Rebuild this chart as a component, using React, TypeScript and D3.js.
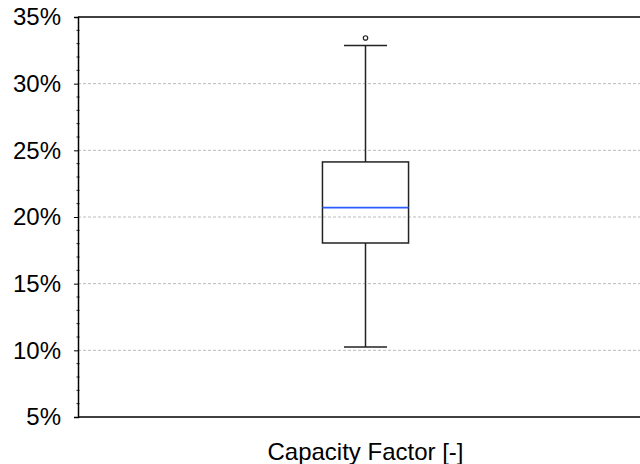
import React, { useEffect, useRef } from 'react';
import * as d3 from 'd3';

const categories = ['Capacity Factor [-]'];
// box stats, in percent
const whiskerLow = [10.25];
const q1 = [18.05];
const median = [20.7];
const q3 = [24.13];
const whiskerHigh = [32.87];
const outliers = [[33.43]];
const yTicks = [5, 10, 15, 20, 25, 30, 35];

const App = () => {
  const ref = useRef<SVGSVGElement | null>(null);

  useEffect(() => {
    if (!ref.current) return;
    const width = 640;
    const height = 464;
    const margin = { top: 17, right: -13, bottom: 47, left: 78 };

    const svg = d3.select(ref.current);
    svg.selectAll('*').remove();

    const x = d3.scaleBand()
      .domain(categories)
      .range([margin.left, width - margin.right])
      .paddingInner(0)
      .paddingOuter(2.84);
    const y = d3.scaleLinear()
      .domain([5, 35])
      .range([height - margin.bottom, margin.top]);

    const font = 'Liberation Sans, Arial, sans-serif';

    // grid
    svg.append('g')
      .selectAll('line')
      .data(yTicks.filter(t => t > 5 && t < 35))
      .enter()
      .append('line')
      .attr('x1', margin.left)
      .attr('x2', width)
      .attr('y1', d => y(d))
      .attr('y2', d => y(d))
      .attr('stroke', '#bbb')
      .attr('stroke-width', 1)
      .attr('stroke-dasharray', '3,2');

    // minor ticks
    const minor = d3.range(5, 35.01, 1).filter(v => v % 5 !== 0);
    svg.append('g')
      .selectAll('line')
      .data(minor)
      .enter()
      .append('line')
      .attr('x1', margin.left - 1.5)
      .attr('x2', margin.left + 1.5)
      .attr('y1', d => y(d))
      .attr('y2', d => y(d))
      .attr('stroke', '#222')
      .attr('stroke-width', 1);

    // left axis
    const yAxis = d3.axisLeft(y)
      .tickValues(yTicks)
      .tickFormat(d => `${d}%`)
      .tickSize(4)
      .tickPadding(13);
    const ga = svg.append('g')
      .attr('transform', `translate(${margin.left},0)`)
      .call(yAxis);
    ga.select('.domain').attr('stroke', '#000').attr('stroke-width', 1.5);
    ga.selectAll('.tick line').attr('stroke', '#000');
    ga.selectAll('.tick text')
      .style('font-family', font)
      .style('font-size', '24px')
      .attr('fill', '#000');

    // top and bottom frame
    [35, 5].forEach(v => {
      svg.append('line')
        .attr('x1', margin.left)
        .attr('x2', width)
        .attr('y1', y(v))
        .attr('y2', y(v))
        .attr('stroke', '#000')
        .attr('stroke-width', 1.5);
    });

    // boxes
    categories.forEach((c, i) => {
      const x0 = x(c)!;
      const bw = x.bandwidth();
      const cx = x0 + bw / 2;
      const g = svg.append('g');
      const sw = 1.5;

      g.append('line')
        .attr('x1', cx).attr('x2', cx)
        .attr('y1', y(whiskerHigh[i])).attr('y2', y(q3[i]))
        .attr('stroke', '#222').attr('stroke-width', sw);
      g.append('line')
        .attr('x1', cx).attr('x2', cx)
        .attr('y1', y(q1[i])).attr('y2', y(whiskerLow[i]))
        .attr('stroke', '#222').attr('stroke-width', sw);
      [whiskerHigh[i], whiskerLow[i]].forEach(v => {
        g.append('line')
          .attr('x1', cx - bw / 4).attr('x2', cx + bw / 4)
          .attr('y1', y(v)).attr('y2', y(v))
          .attr('stroke', '#222').attr('stroke-width', sw);
      });
      g.append('rect')
        .attr('x', x0)
        .attr('y', y(q3[i]))
        .attr('width', bw)
        .attr('height', y(q1[i]) - y(q3[i]))
        .attr('fill', 'none')
        .attr('stroke', '#222')
        .attr('stroke-width', sw);
      g.append('line')
        .attr('x1', x0).attr('x2', x0 + bw)
        .attr('y1', y(median[i])).attr('y2', y(median[i]))
        .attr('stroke', '#2a5cff').attr('stroke-width', 1.8);
      g.selectAll('circle')
        .data(outliers[i])
        .enter()
        .append('circle')
        .attr('cx', cx)
        .attr('cy', d => y(d))
        .attr('r', 2.2)
        .attr('fill', 'none')
        .attr('stroke', '#222')
        .attr('stroke-width', 1.2);

      svg.append('text')
        .attr('x', cx)
        .attr('y', 460)
        .attr('text-anchor', 'middle')
        .style('font-family', font)
        .style('font-size', '24px')
        .text(c);
    });
  }, []);

  return (
    <div style={{ position: 'absolute', left: 0, top: 0 }}>
      <svg ref={ref} width={640} height={464} style={{ display: 'block', background: '#fff' }} />
    </div>
  );
};

export default App;
